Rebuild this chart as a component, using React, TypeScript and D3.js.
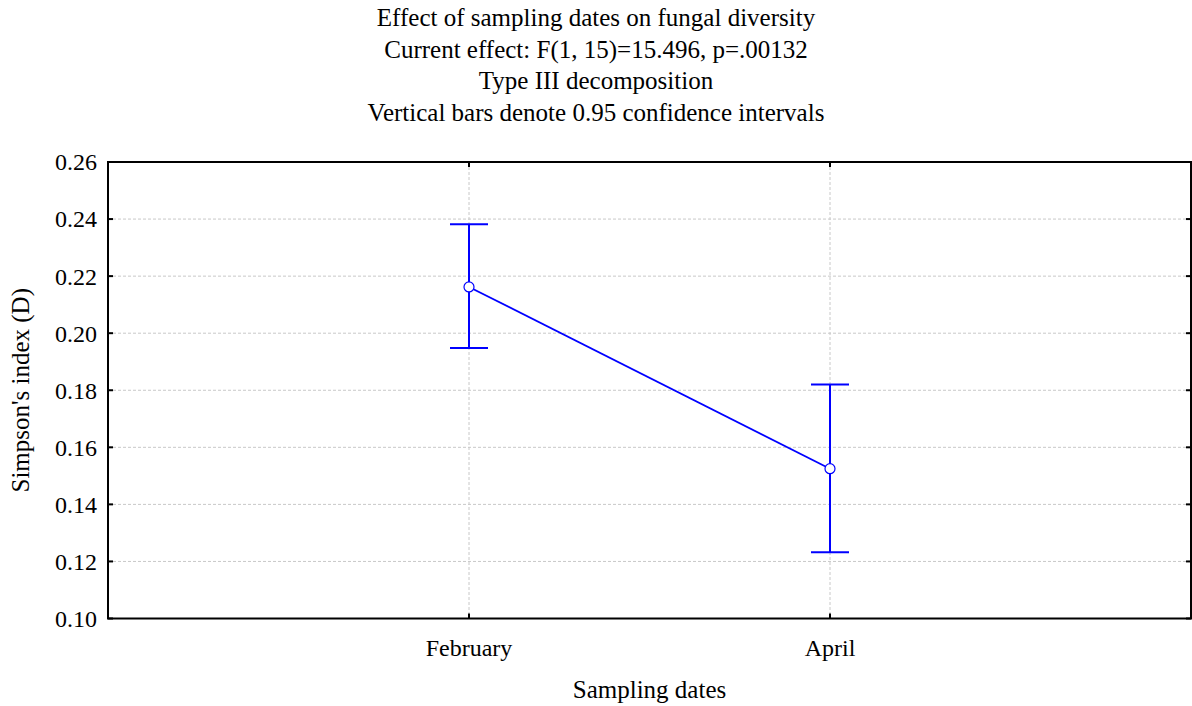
import { useRef, useEffect } from 'react';
import * as d3 from 'd3';

const CATEGORIES = ['February', 'April'];
const MEANS = [0.2162, 0.1525];
const LOWER = [0.1948, 0.1232];
const UPPER = [0.2382, 0.1820];
const Y_TICKS = [0.1, 0.12, 0.14, 0.16, 0.18, 0.2, 0.22, 0.24, 0.26];
const TITLE_LINES = [
  'Effect of sampling dates on fungal diversity',
  'Current effect: F(1, 15)=15.496, p=.00132',
  'Type III decomposition',
  'Vertical bars denote 0.95 confidence intervals',
];

const WIDTH = 1192;
const HEIGHT = 706;
const FONT = '"Liberation Serif", "Times New Roman", serif';
const FS = 24;
const TITLE_FS = 25;
const BLUE = '#0000ff';

export default function App() {
  const svgRef = useRef<SVGSVGElement>(null);

  useEffect(() => {
    if (!svgRef.current) return;
    const svg = d3.select(svgRef.current);
    svg.selectAll('*').remove();

    const margin = { top: 162, right: 1, bottom: 87.5, left: 108 };
    const w = WIDTH - margin.left - margin.right;
    const h = HEIGHT - margin.top - margin.bottom;

    const g = svg
      .append('g')
      .attr('transform', `translate(${margin.left},${margin.top})`);

    // categories sit at 1/3 and 2/3 of the width
    const x = d3
      .scalePoint<string>()
      .domain(CATEGORIES)
      .range([0, w])
      .padding(1);

    const y = d3.scaleLinear().domain([0.1, 0.26]).range([h, 0]);

    // grid
    g.append('g')
      .selectAll('line')
      .data(Y_TICKS.slice(1, -1))
      .join('line')
      .attr('x1', 0)
      .attr('x2', w)
      .attr('y1', (d) => y(d))
      .attr('y2', (d) => y(d))
      .attr('stroke', '#c8c8c8')
      .attr('stroke-dasharray', '3,2');

    g.append('g')
      .selectAll('line')
      .data(CATEGORIES)
      .join('line')
      .attr('x1', (d) => x(d)!)
      .attr('x2', (d) => x(d)!)
      .attr('y1', 0)
      .attr('y2', h)
      .attr('stroke', '#c8c8c8')
      .attr('stroke-dasharray', '3,2');

    // frame
    g.append('rect')
      .attr('width', w)
      .attr('height', h)
      .attr('fill', 'none')
      .attr('stroke', '#000')
      .attr('stroke-width', 2);

    // inside ticks
    const tickLen = 5;
    const tickG = g.append('g');
    Y_TICKS.forEach((t) => {
      tickG.append('line').attr('x1', 0).attr('x2', tickLen).attr('y1', y(t)).attr('y2', y(t));
      tickG.append('line').attr('x1', w).attr('x2', w - tickLen).attr('y1', y(t)).attr('y2', y(t));
    });
    CATEGORIES.forEach((c) => {
      tickG.append('line').attr('x1', x(c)!).attr('x2', x(c)!).attr('y1', 0).attr('y2', tickLen);
      tickG.append('line').attr('x1', x(c)!).attr('x2', x(c)!).attr('y1', h).attr('y2', h - tickLen);
    });
    tickG.selectAll('line').attr('stroke', '#000').attr('stroke-width', 2);

    // tick labels
    g.append('g')
      .selectAll('text')
      .data(Y_TICKS)
      .join('text')
      .attr('x', -11)
      .attr('y', (d) => y(d))
      .attr('dy', '0.35em')
      .attr('text-anchor', 'end')
      .attr('font-family', FONT)
      .attr('font-size', FS)
      .attr('fill', '#000')
      .text((d) => d3.format('.2f')(d));

    g.append('g')
      .selectAll('text')
      .data(CATEGORIES)
      .join('text')
      .attr('x', (d) => x(d)!)
      .attr('y', h + 37)
      .attr('text-anchor', 'middle')
      .attr('font-family', FONT)
      .attr('font-size', FS)
      .attr('fill', '#000')
      .text((d) => d);

    // error bars
    const capW = 19;
    CATEGORIES.forEach((c, i) => {
      const cx = x(c)!;
      g.append('line')
        .attr('x1', cx).attr('x2', cx)
        .attr('y1', y(UPPER[i])).attr('y2', y(LOWER[i]))
        .attr('stroke', BLUE).attr('stroke-width', 2);
      [UPPER[i], LOWER[i]].forEach((v) => {
        g.append('line')
          .attr('x1', cx - capW).attr('x2', cx + capW)
          .attr('y1', y(v)).attr('y2', y(v))
          .attr('stroke', BLUE).attr('stroke-width', 2);
      });
    });

    // mean line
    const line = d3
      .line<number>()
      .x((_, i) => x(CATEGORIES[i])!)
      .y((d) => y(d));
    g.append('path')
      .attr('d', line(MEANS))
      .attr('fill', 'none')
      .attr('stroke', BLUE)
      .attr('stroke-width', 1.8);

    g.append('g')
      .selectAll('circle')
      .data(MEANS)
      .join('circle')
      .attr('cx', (_, i) => x(CATEGORIES[i])!)
      .attr('cy', (d) => y(d))
      .attr('r', 5)
      .attr('fill', '#fff')
      .attr('stroke', BLUE)
      .attr('stroke-width', 1.2);

    // titles
    svg
      .append('g')
      .selectAll('text')
      .data(TITLE_LINES)
      .join('text')
      .attr('x', 596)
      .attr('y', (_, i) => 26 + i * 31.7)
      .attr('text-anchor', 'middle')
      .attr('font-family', FONT)
      .attr('font-size', TITLE_FS)
      .attr('fill', '#000')
      .text((d) => d);

    svg
      .append('text')
      .attr('x', margin.left + w / 2)
      .attr('y', 698)
      .attr('text-anchor', 'middle')
      .attr('font-family', FONT)
      .attr('font-size', TITLE_FS)
      .attr('fill', '#000')
      .text('Sampling dates');

    svg
      .append('text')
      .attr('transform', `translate(29,${margin.top + h / 2}) rotate(-90)`)
      .attr('text-anchor', 'middle')
      .attr('font-family', FONT)
      .attr('font-size', TITLE_FS)
      .attr('fill', '#000')
      .text("Simpson's index (D)");
  }, []);

  return (
    <svg
      ref={svgRef}
      width={WIDTH}
      height={HEIGHT}
      style={{ position: 'absolute', left: 0, top: 0, background: '#fff' }}
    />
  );
}
